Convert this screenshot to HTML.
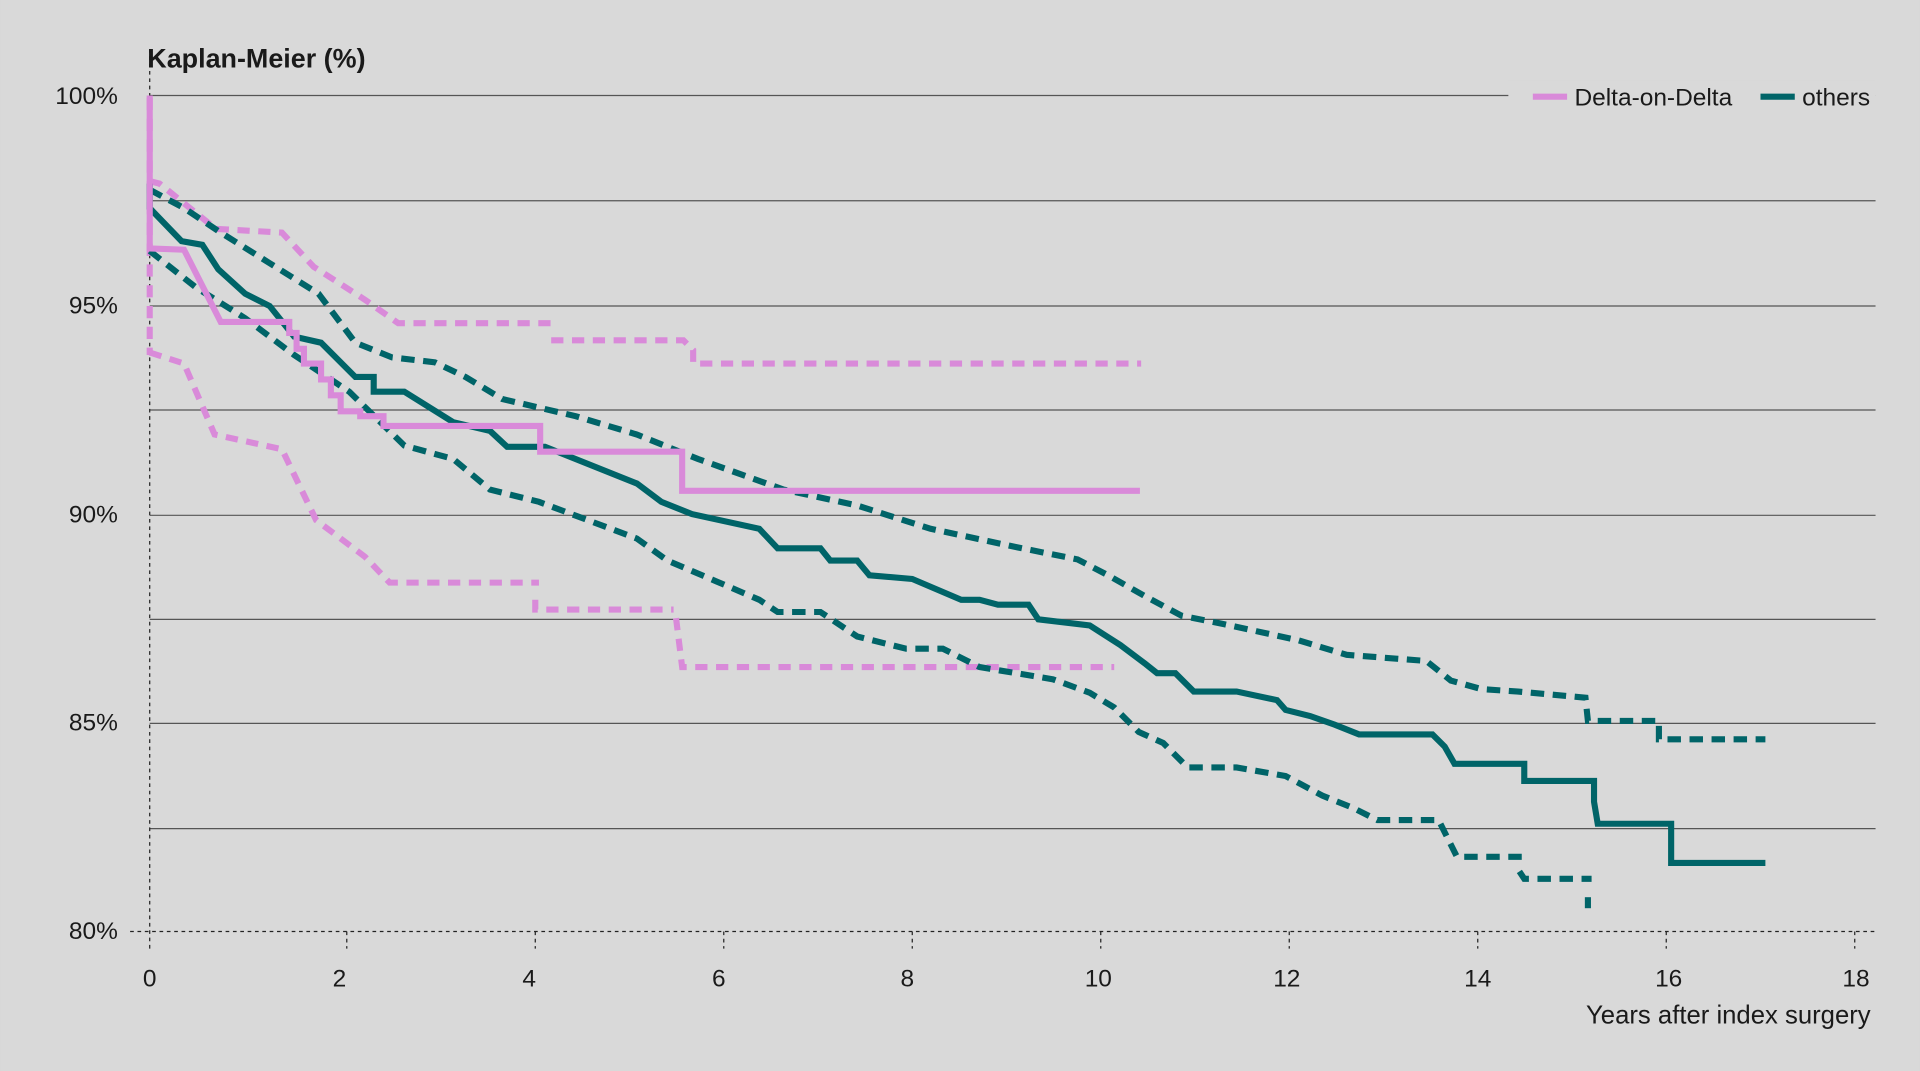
<!DOCTYPE html>
<html><head><meta charset="utf-8"><style>
html,body{margin:0;padding:0;background:#d9d9d9;}
svg{display:block;}
text{font-family:"Liberation Sans",sans-serif;fill:#1a1a1a;}
</style></head><body>
<svg width="1920" height="1071" viewBox="0 0 1568 875" xmlns="http://www.w3.org/2000/svg">
<rect width="1568" height="875" fill="#d9d9d9"/>
<g stroke="#555" stroke-width="1">
<line x1="122" y1="78" x2="1532" y2="78"/>
<line x1="122" y1="164" x2="1532" y2="164"/>
<line x1="122" y1="250" x2="1532" y2="250"/>
<line x1="122" y1="335" x2="1532" y2="335"/>
<line x1="122" y1="421" x2="1532" y2="421"/>
<line x1="122" y1="506" x2="1532" y2="506"/>
<line x1="122" y1="591" x2="1532" y2="591"/>
<line x1="122" y1="677" x2="1532" y2="677"/>
</g>
<g stroke="#222" stroke-width="1" stroke-dasharray="3,3">
<line x1="106" y1="761" x2="1532" y2="761"/>
<line x1="122" y1="40" x2="122" y2="775"/>
<line x1="283" y1="761" x2="283" y2="775"/><line x1="437" y1="761" x2="437" y2="775"/>
<line x1="591" y1="761" x2="591" y2="775"/><line x1="745" y1="761" x2="745" y2="775"/>
<line x1="899" y1="761" x2="899" y2="775"/><line x1="1053" y1="761" x2="1053" y2="775"/>
<line x1="1207" y1="761" x2="1207" y2="775"/><line x1="1361" y1="761" x2="1361" y2="775"/>
<line x1="1515" y1="761" x2="1515" y2="775"/>
</g>
<rect x="1232" y="66" width="300" height="26" fill="#d9d9d9"/>
<text x="120" y="55" font-size="22" font-weight="bold" fill="#111">Kaplan-Meier (%)</text>
<g font-size="20" text-anchor="end" fill="#333">
<text x="96" y="85">100%</text><text x="96" y="256">95%</text><text x="96" y="427">90%</text>
<text x="96" y="597">85%</text><text x="96" y="767">80%</text>
</g>
<g font-size="20" text-anchor="middle" fill="#333">
<text x="122" y="806">0</text><text x="277" y="806">2</text><text x="432" y="806">4</text>
<text x="587" y="806">6</text><text x="741" y="806">8</text><text x="897" y="806">10</text>
<text x="1051" y="806">12</text><text x="1207" y="806">14</text><text x="1363" y="806">16</text>
<text x="1516" y="806">18</text>
</g>
<text x="1528" y="836" font-size="21" text-anchor="end" fill="#333">Years after index surgery</text>
<line x1="1252" y1="79" x2="1280" y2="79" stroke="#d98ad9" stroke-width="5"/>
<text x="1286" y="86" font-size="20">Delta-on-Delta</text>
<line x1="1438" y1="79" x2="1466" y2="79" stroke="#006468" stroke-width="5"/>
<text x="1472" y="86" font-size="20">others</text>
<g fill="none" stroke-width="5" stroke-linejoin="miter">
<g stroke="#d98ad9" stroke-dasharray="10,7">
<polyline points="122,80 122,290"/>
<polyline points="122,148 130,150 176,187 230,190 256,218 298,245 325,264 450,264"/>
<polyline points="450,278 558,278 566,286 566,297 932,297"/>
<polyline points="122,288 150,297 175,355 230,367 258,425 298,455 318,476 440,476"/>
<polyline points="437,490 437,498 550,498"/>
<polyline points="552,505 557,545 910,545"/>
</g>
<g stroke="#006468" stroke-dasharray="11,7">
<polyline points="122,155 150,170 180,190 220,215 260,240 290,280 320,292 355,296 380,308 410,326 470,340 520,355 570,375 640,400 700,413 760,432 830,447 880,457 905,470 935,487 965,503 1000,510 1060,523 1100,535 1165,540 1185,556 1210,563 1240,565 1295,570 1297,589 1355,589 1355,604 1442,604"/>
<polyline points="122,205 160,235 200,260 240,290 285,320 330,364 370,375 400,400 440,410 480,425 520,440 545,458 585,475 620,490 635,500 670,500 700,520 740,530 770,530 800,545 860,555 890,566 910,578 930,598 950,607 970,627 1010,627 1050,634 1080,650 1105,660 1125,670 1175,670 1190,700 1245,700"/>
<polyline points="1241,712 1245,718 1300,718"/>
<polyline points="1297,733 1297,742"/>
</g>
<polyline stroke="#006468" points="122,150 122,170 148,197 165,200 178,220 200,240 220,250 240,275 262,280 290,308 305,308 305,320 330,320 370,345 400,352 414,365 445,365 520,395 540,410 565,420 620,432 635,448 670,448 678,458 700,458 710,470 745,473 785,490 800,490 815,494 840,494 848,506 890,511 915,527 935,542 945,550 960,550 975,565 1010,565 1043,572 1050,580 1070,585 1090,592 1110,600 1170,600 1180,610 1188,624 1245,624 1245,638 1302,638 1302,655 1305,673 1365,673 1365,705 1442,705"/>
<polyline stroke="#d98ad9" points="122,78 122,203 150,204 180,263 236,263 236,272 242,272 242,285 248,285 248,297 262,297 262,310 270,310 270,323 278,323 278,336 294,336 294,340 313,340 313,348 441,348 441,369 557,369 557,401 931,401"/>
</g>
</svg>
</body></html>
